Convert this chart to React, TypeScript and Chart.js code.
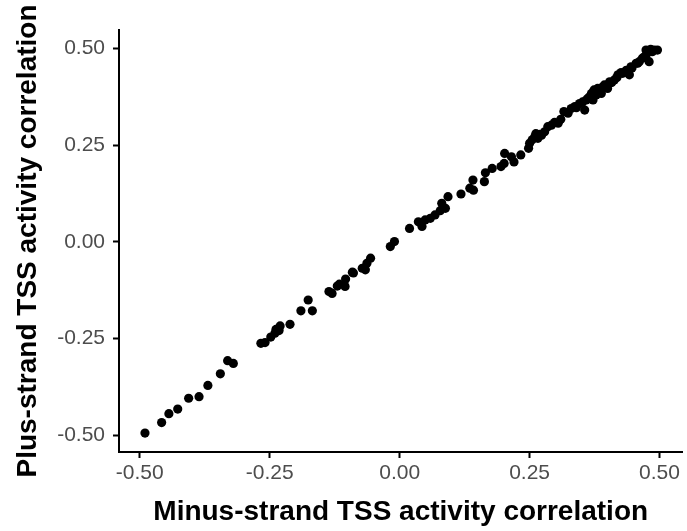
import React, { useEffect, useRef } from "react";
import { Chart, registerables } from "chart.js";

Chart.register(...registerables);

const minusStrand: number[] = [
  -0.490, -0.458, -0.444, -0.427, -0.406, -0.386, -0.369, -0.345, -0.331, -0.320,
  -0.267, -0.259, -0.248, -0.240, -0.238, -0.232, -0.230, -0.211, -0.190, -0.176,
  -0.168, -0.136, -0.130, -0.120, -0.116, -0.105, -0.104, -0.091, -0.089, -0.072,
  -0.066, -0.063, -0.056, -0.018, -0.010,
  0.019, 0.036, 0.043, 0.049, 0.059, 0.068, 0.078, 0.081, 0.088, 0.093,
  0.118, 0.135, 0.141, 0.142, 0.163, 0.165, 0.178, 0.195, 0.201, 0.202,
  0.215, 0.220, 0.233, 0.248, 0.250, 0.255, 0.260, 0.266, 0.273, 0.279,
  0.285, 0.292, 0.305, 0.310, 0.316, 0.324, 0.330, 0.337, 0.346, 0.356,
  0.359, 0.365, 0.369, 0.374, 0.372, 0.378, 0.381, 0.388, 0.394, 0.400,
  0.404, 0.413, 0.420, 0.429, 0.436, 0.442, 0.445, 0.455, 0.461, 0.467,
  0.474, 0.474, 0.480, 0.483, 0.490, 0.496,
  0.340, 0.352, 0.362, 0.383, 0.391, 0.408, 0.418, 0.426, 0.447, 0.458,
  0.470, 0.486, 0.262, 0.270, 0.298,
];

const plusStrand: number[] = [
  -0.494, -0.467, -0.444, -0.432, -0.404, -0.400, -0.371, -0.341, -0.307, -0.314,
  -0.262, -0.260, -0.246, -0.236, -0.226, -0.229, -0.217, -0.213, -0.178, -0.150,
  -0.178, -0.128, -0.133, -0.114, -0.109, -0.115, -0.096, -0.078, -0.080, -0.068,
  -0.072, -0.055, -0.042, -0.012, 0.001,
  0.035, 0.052, 0.040, 0.057, 0.061, 0.070, 0.081, 0.100, 0.087, 0.117,
  0.124, 0.139, 0.160, 0.134, 0.156, 0.179, 0.190, 0.195, 0.203, 0.229,
  0.220, 0.207, 0.225, 0.242, 0.255, 0.264, 0.272, 0.268, 0.276, 0.285,
  0.298, 0.302, 0.307, 0.317, 0.337, 0.333, 0.345, 0.350, 0.358, 0.341,
  0.367, 0.375, 0.384, 0.393, 0.367, 0.380, 0.397, 0.384, 0.406, 0.397,
  0.414, 0.419, 0.432, 0.436, 0.444, 0.432, 0.453, 0.462, 0.466, 0.475,
  0.483, 0.496, 0.466, 0.498, 0.496, 0.496,
  0.347, 0.362, 0.371, 0.392, 0.401, 0.412, 0.425, 0.438, 0.450, 0.462,
  0.478, 0.492, 0.280, 0.278, 0.309,
];

const tickValues: number[] = [-0.5, -0.25, 0, 0.25, 0.5];
const xTitle = "Minus-strand TSS activity correlation";
const yTitle = "Plus-strand TSS activity correlation";

export default function App() {
  const canvasRef = useRef<HTMLCanvasElement | null>(null);

  useEffect(() => {
    document.body.style.margin = "0";
    const canvas = canvasRef.current;
    if (!canvas) return;
    const points = minusStrand.map((x, i) => ({ x, y: plusStrand[i] }));
    const tickFont = { family: "'Liberation Sans', Arial, sans-serif", size: 21 };
    const titleFont = { family: "'Liberation Sans', Arial, sans-serif", size: 28, weight: "bold" as const };
    const chart = new Chart(canvas, {
      type: "scatter",
      data: {
        datasets: [
          {
            data: points,
            backgroundColor: "#000000",
            borderColor: "#000000",
            borderWidth: 0,
            pointRadius: 4.6,
          },
        ],
      },
      options: {
        animation: false,
        responsive: false,
        maintainAspectRatio: false,
        layout: { padding: { top: 30, right: 2, bottom: 0, left: 0 } },
        plugins: { legend: { display: false }, tooltip: { enabled: false } },
        scales: {
          x: {
            type: "linear",
            min: -0.54,
            max: 0.544,
            afterBuildTicks: (scale: any) => {
              scale.ticks = tickValues.map((v) => ({ value: v }));
            },
            afterFit: (scale: any) => {
              scale.height = 79;
            },
            grid: {
              display: true,
              drawOnChartArea: false,
              drawTicks: true,
              tickLength: 6,
              tickColor: "#000000",
              tickWidth: 2,
            },
            border: { display: true, color: "#000000", width: 2 },
            ticks: {
              color: "#4d4d4d",
              font: tickFont,
              padding: 3,
              maxRotation: 0,
              callback: (v: any) => Number(v).toFixed(2),
            },
            title: {
              display: true,
              text: xTitle,
              color: "#000000",
              font: titleFont,
              padding: { top: 0, bottom: 2 },
            },
          },
          y: {
            type: "linear",
            min: -0.543,
            max: 0.548,
            afterBuildTicks: (scale: any) => {
              scale.ticks = tickValues.map((v) => ({ value: v }));
            },
            afterFit: (scale: any) => {
              scale.width = 119;
            },
            grid: {
              display: true,
              drawOnChartArea: false,
              drawTicks: true,
              tickLength: 6,
              tickColor: "#000000",
              tickWidth: 2,
            },
            border: { display: true, color: "#000000", width: 2 },
            ticks: {
              color: "#4d4d4d",
              font: tickFont,
              padding: 8,
              callback: (v: any) => Number(v).toFixed(2),
            },
            title: {
              display: true,
              text: yTitle,
              color: "#000000",
              font: titleFont,
              padding: { top: 11, bottom: 0 },
            },
          },
        },
      },
    });
    return () => chart.destroy();
  }, []);

  return (
    <div style={{ width: 687, height: 531, position: "relative" }}>
      <canvas ref={canvasRef} width={687} height={531} style={{ display: "block" }} />
    </div>
  );
}
